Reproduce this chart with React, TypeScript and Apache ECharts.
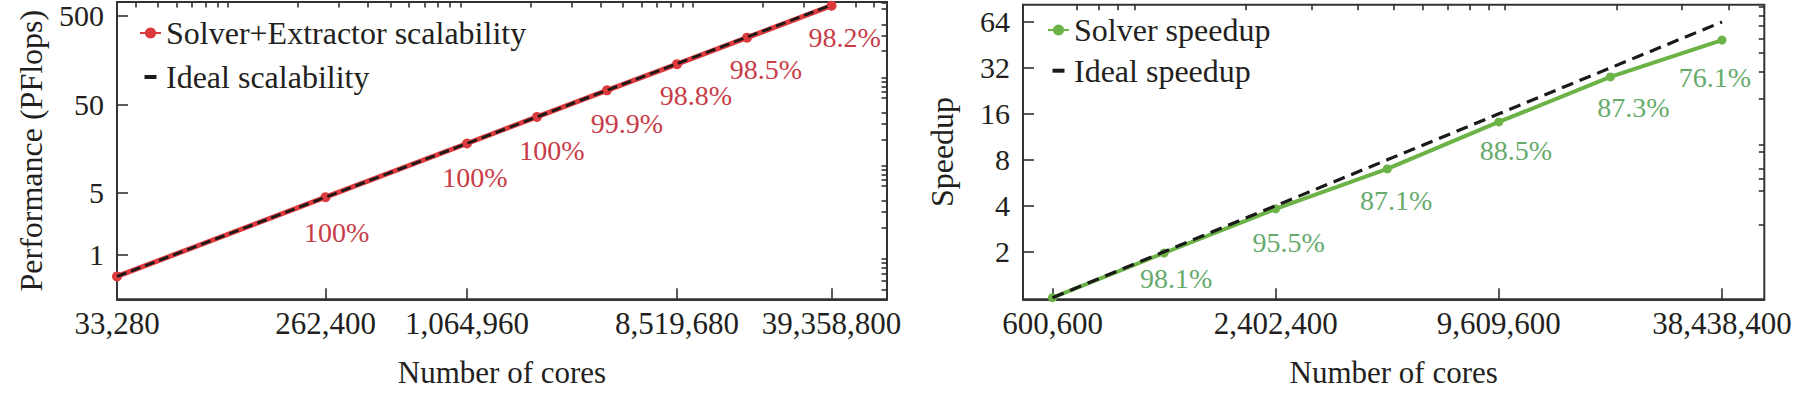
import React, { useEffect, useRef } from "react";
import * as echarts from "echarts";

// ---------- Left panel: Solver+Extractor scalability ----------
const scaleCores = [33280, 262400, 1064960, 2129920, 4259840, 8519680, 17039360, 39358800];
const scalePerf = [0.563, 4.44, 18.0, 36.0, 72.0, 142.4, 284, 654];
const idealPerf = [0.563, 4.44, 18.0, 36.0, 72.1, 144.1, 288.3, 665.8];
const scaleEff = ["", "100%", "100%", "100%", "99.9%", "98.8%", "98.5%", "98.2%"];
const scaleXTicks = [33280, 262400, 1064960, 8519680, 39358800];
const scaleXMinor = [
  4e4, 5e4, 6e4, 7e4, 8e4, 9e4, 1e5, 2e5, 3e5, 4e5, 5e5, 6e5, 7e5, 8e5, 9e5, 1e6,
  2e6, 3e6, 4e6, 5e6, 6e6, 7e6, 8e6, 9e6, 1e7, 2e7, 3e7, 4e7, 5e7, 6e7,
];
const scaleYTicks = [1, 5, 50, 500];
const scaleYMinor = [
  0.4, 0.5, 0.6, 0.7, 0.8, 0.9, 2, 3, 4, 6, 7, 8, 9, 10, 20, 30, 40, 60, 70, 80, 90, 100,
  200, 300, 400, 600, 700,
];

// ---------- Right panel: Solver speedup ----------
const speedCores = [600600, 1201200, 2402400, 4804800, 9609600, 19219200, 38438400];
const speedup = [1, 1.962, 3.82, 6.97, 14.16, 27.94, 48.7];
const idealSpeedup = [1, 2, 4, 8, 16, 32, 64];
const speedEff = ["", "98.1%", "95.5%", "87.1%", "88.5%", "87.3%", "76.1%"];
const speedXTicks = [600600, 2402400, 9609600, 38438400];
const speedXMinor = [7e5, 8e5, 9e5, 1e6, 2e6, 3e6, 4e6, 5e6, 6e6, 7e6, 8e6, 9e6, 1e7, 2e7, 3e7, 4e7];
const speedYTicks = [2, 4, 8, 16, 32, 64];
const speedYMinor = [3, 5, 6, 7, 9, 10, 20, 30, 40, 50, 60, 70, 80];

// label nudges (pixels, relative to the point) – styling only
const scaleLabelShift = [[0, 0], [11, 35], [8, 34], [15, 34], [20, 33], [19, 31], [19, 32], [13, 32]];
const speedLabelShift = [[0, 0], [12, 25], [13, 34], [9, 32], [17, 29], [23, 31], [-7, 37]];

const FONT = "Liberation Serif";
const TXT = "#231f20";
const AX = "#333333";
const RED = "#dc3a3c";
const RED_TXT = "#c83c48";
const GREEN = "#6cb347";
const GREEN_TXT = "#66aa6c";
const DASH_ICON = "path://M0,0M21,14M4.5,5h12v4h-12z";

const fmt = (v: number) => Math.round(Number(v)).toLocaleString("en-US");

function majorX(gridIndex: number, min: number, max: number, ticks: number[]) {
  return {
    type: "log",
    gridIndex,
    min,
    max,
    logBase: 10,
    name: "Number of cores",
    nameLocation: "middle",
    nameGap: 58,
    nameTextStyle: { fontFamily: FONT, fontSize: 31, color: TXT },
    axisLine: { show: true, onZero: false, lineStyle: { color: AX, width: 2 } },
    axisTick: { show: true, inside: true, length: 11, customValues: ticks, lineStyle: { color: AX, width: 1.6 } },
    axisLabel: { customValues: ticks, formatter: fmt, margin: 9, fontFamily: FONT, fontSize: 31, color: TXT },
    splitLine: { show: false },
    minorTick: { show: false },
  };
}
function minorX(gridIndex: number, min: number, max: number, ticks: number[]) {
  return {
    type: "log",
    gridIndex,
    min,
    max,
    logBase: 10,
    axisLine: { show: false, onZero: false },
    axisTick: { show: true, inside: true, length: 5.5, customValues: ticks, lineStyle: { color: AX, width: 1.6 } },
    axisLabel: { show: false },
    splitLine: { show: false },
  };
}
function majorY(gridIndex: number, min: number, max: number, base: number, ticks: number[], name: string, gap: number) {
  return {
    type: "log",
    gridIndex,
    min,
    max,
    logBase: base,
    name,
    nameLocation: "middle",
    nameGap: gap,
    nameTextStyle: { fontFamily: FONT, fontSize: 32, color: TXT },
    axisLine: { show: true, onZero: false, lineStyle: { color: AX, width: 2 } },
    axisTick: { show: true, inside: true, length: 11, customValues: ticks, lineStyle: { color: AX, width: 1.6 } },
    axisLabel: { customValues: ticks, formatter: fmt, margin: 13, fontFamily: FONT, fontSize: 30, color: TXT, lineHeight: 28 },
    splitLine: { show: false },
    minorTick: { show: false },
  };
}
function minorY(gridIndex: number, min: number, max: number, base: number, ticks: number[]) {
  return {
    type: "log",
    gridIndex,
    min,
    max,
    logBase: base,
    axisLine: { show: false, onZero: false },
    axisTick: { show: true, inside: true, length: 5.5, customValues: ticks, lineStyle: { color: AX, width: 1.6 } },
    axisLabel: { show: false },
    splitLine: { show: false },
  };
}

function labelled(xs: number[], ys: number[], eff: string[], shift: number[][], size: number, color: string) {
  return xs.map((x, i) => ({
    value: [x, ys[i]],
    label: {
      show: eff[i] !== "",
      formatter: eff[i],
      position: [size / 2 + shift[i][0], size / 2 + shift[i][1]],
      align: "center",
      verticalAlign: "middle",
      fontFamily: FONT,
      fontSize: 28,
      color,
    },
  }));
}

function buildOption() {
  const SX = [33280, 68157440];
  const SY = [0.31, 720];
  const PX = [5e5, 5e7];
  const PY = [0.976, 83];
  return {
    animation: false,
    backgroundColor: "#ffffff",
    grid: [
      { left: 117, top: 2, width: 770, height: 297.3, show: true, borderColor: AX, borderWidth: 2, backgroundColor: "transparent" },
      { left: 1023, top: 4.7, width: 741.3, height: 294.6, show: true, borderColor: AX, borderWidth: 2, backgroundColor: "transparent" },
    ],
    legend: [
      {
        orient: "vertical",
        left: 134,
        top: 12,
        itemWidth: 21,
        itemHeight: 14,
        itemGap: 12,
        textStyle: { fontFamily: FONT, fontSize: 32, color: TXT },
        data: [{ name: "Solver+Extractor scalability" }, { name: "Ideal scalability", icon: DASH_ICON }],
      },
      {
        orient: "vertical",
        left: 1042,
        top: 9,
        itemWidth: 21,
        itemHeight: 14,
        itemGap: 8.7,
        textStyle: { fontFamily: FONT, fontSize: 32, color: TXT },
        data: [{ name: "Solver speedup" }, { name: "Ideal speedup", icon: DASH_ICON }],
      },
    ],
    xAxis: [
      majorX(0, SX[0], SX[1], scaleXTicks),
      minorX(0, SX[0], SX[1], scaleXMinor),
      majorX(1, PX[0], PX[1], speedXTicks),
      minorX(1, PX[0], PX[1], speedXMinor),
    ],
    yAxis: [
      majorY(0, SY[0], SY[1], 10, scaleYTicks, "Performance (PFlops)", 70),
      minorY(0, SY[0], SY[1], 10, scaleYMinor),
      majorY(1, PY[0], PY[1], 2, speedYTicks, "Speedup", 65),
      minorY(1, PY[0], PY[1], 2, speedYMinor),
    ],
    series: [
      {
        name: "Solver+Extractor scalability",
        type: "line",
        xAxisIndex: 0,
        yAxisIndex: 0,
        data: labelled(scaleCores, scalePerf, scaleEff, scaleLabelShift, 10, RED_TXT),
        symbol: "circle",
        symbolSize: 10,
        lineStyle: { color: RED, width: 5 },
        itemStyle: { color: RED },
        z: 2,
      },
      {
        name: "Ideal scalability",
        type: "line",
        xAxisIndex: 0,
        yAxisIndex: 0,
        data: scaleCores.map((x, i) => [x, idealPerf[i]]),
        symbol: "none",
        lineStyle: { color: "#1a1a1a", width: 2.8, type: [10, 5] },
        itemStyle: { color: "#1a1a1a" },
        z: 3,
      },
      {
        name: "Solver speedup",
        type: "line",
        xAxisIndex: 2,
        yAxisIndex: 2,
        data: labelled(speedCores, speedup, speedEff, speedLabelShift, 9, GREEN_TXT),
        symbol: "circle",
        symbolSize: 9,
        lineStyle: { color: GREEN, width: 4 },
        itemStyle: { color: GREEN },
        z: 2,
      },
      {
        name: "Ideal speedup",
        type: "line",
        xAxisIndex: 2,
        yAxisIndex: 2,
        data: speedCores.map((x, i) => [x, idealSpeedup[i]]),
        symbol: "none",
        lineStyle: { color: "#1a1a1a", width: 3.2, type: [12, 7] },
        itemStyle: { color: "#1a1a1a" },
        z: 3,
      },
    ],
  };
}

export default function App() {
  const ref = useRef<HTMLDivElement>(null);
  useEffect(() => {
    if (!ref.current) return;
    const chart = echarts.init(ref.current, null, { renderer: "svg" });
    chart.setOption(buildOption() as any);
    return () => chart.dispose();
  }, []);
  return (
    <div
      ref={ref}
      style={{ position: "absolute", left: 0, top: 0, width: 1797, height: 398, background: "#ffffff" }}
    />
  );
}
